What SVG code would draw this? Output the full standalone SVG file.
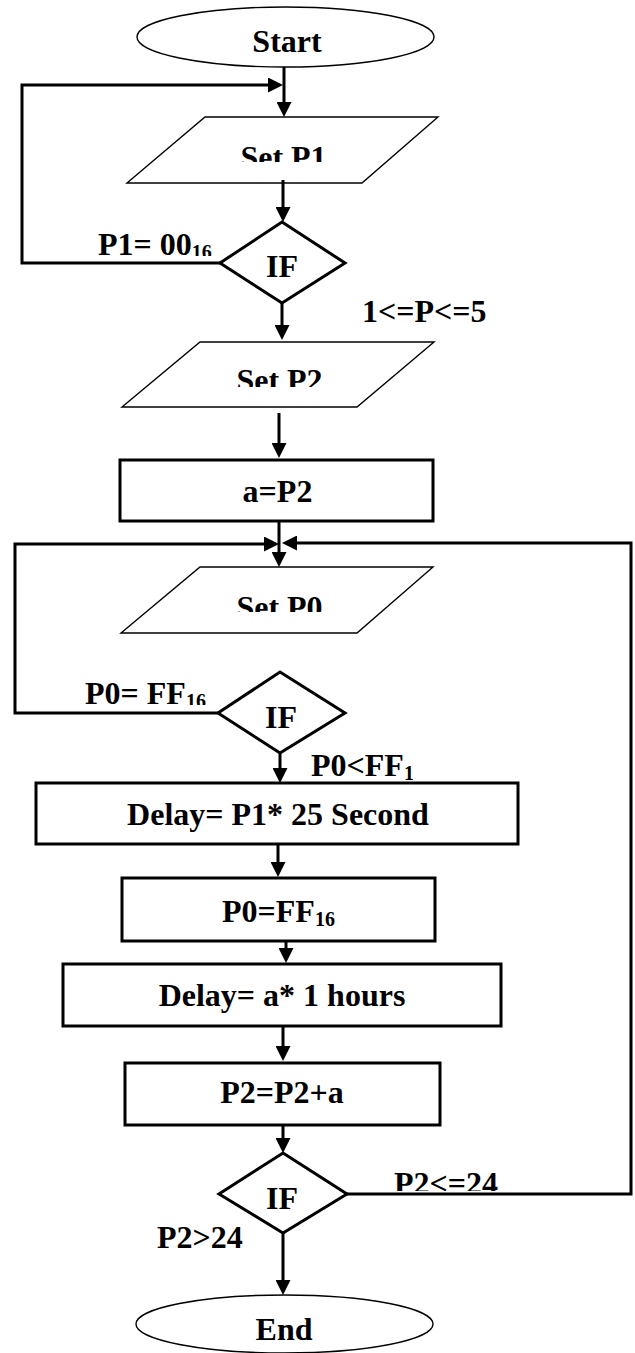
<svg xmlns="http://www.w3.org/2000/svg" width="635" height="1353" viewBox="0 0 635 1353">
<style>
.t{font-family:"Liberation Serif","Times New Roman",serif;font-weight:bold;font-size:32px;fill:#000}
.c{text-anchor:middle}
.sub{font-size:20px}
.thin{fill:#fff;stroke:#000;stroke-width:1.4}
.thick{fill:#fff;stroke:#000;stroke-width:3}
.conn{fill:none;stroke:#000;stroke-width:3}
</style>
<defs>
<marker id="ah" markerUnits="userSpaceOnUse" markerWidth="15" markerHeight="15" refX="3" refY="7.5" orient="auto"><path d="M0,0 L15,7.5 L0,15 z" fill="#000"/></marker>
<clipPath id="cSet1"><rect x="100" y="130" width="300" height="32"/></clipPath>
<clipPath id="cSet2"><rect x="100" y="355" width="300" height="32"/></clipPath>
<clipPath id="cSet0"><rect x="100" y="580" width="300" height="32"/></clipPath>
<clipPath id="cL1"><rect x="90" y="220" width="140" height="36"/></clipPath>
<clipPath id="cL2"><rect x="80" y="670" width="140" height="35"/></clipPath>
<clipPath id="cL3"><rect x="305" y="740" width="108" height="42"/></clipPath>
<clipPath id="cL4"><rect x="390" y="1160" width="120" height="31"/></clipPath>
</defs>

<g id="start">
<ellipse class="thin" cx="285.5" cy="37" rx="148.5" ry="30"/>
<text class="t c" x="287" y="52">Start</text>
</g>
<g id="setP1">
<polygon class="thin" points="205,117 438,117 362,183 127,183"/>
<text class="t c" x="283.5" y="168" clip-path="url(#cSet1)">Set P1</text>
</g>
<g id="if1">
<polygon class="thick" points="282,222 345,263 282,303 220,263"/>
<text class="t c" x="282" y="277">IF</text>
</g>
<g id="setP2">
<polygon class="thin" points="200,342 434,342 357,407 122,407"/>
<text class="t c" x="279.5" y="391" clip-path="url(#cSet2)">Set P2</text>
</g>
<g id="aP2">
<rect class="thick" x="120" y="460" width="313" height="61"/>
<text class="t c" x="277.5" y="502">a=P2</text>
</g>
<g id="setP0">
<polygon class="thin" points="200,567 433,567 357,633 121,633"/>
<text class="t c" x="279.5" y="618" clip-path="url(#cSet0)">Set P0</text>
</g>
<g id="if2">
<polygon class="thick" points="280,672 345,713 280,753 218,713"/>
<text class="t c" x="281" y="728">IF</text>
</g>
<g id="delay1">
<rect class="thick" x="36" y="783" width="482" height="61"/>
<text class="t c" x="278" y="825">Delay= P1* 25 Second</text>
</g>
<g id="p0ff">
<rect class="thick" x="122" y="878" width="313" height="63"/>
<text class="t" x="222" y="922">P0=FF<tspan class="sub" dy="4">16</tspan></text>
</g>
<g id="delay2">
<rect class="thick" x="63" y="964" width="438" height="62"/>
<text class="t c" x="282" y="1006">Delay= a* 1 hours</text>
</g>
<g id="p2add">
<rect class="thick" x="125" y="1063" width="315" height="62"/>
<text class="t c" x="282" y="1103">P2=P2+a</text>
</g>
<g id="if3">
<polygon class="thick" points="283,1153 347,1194 283,1233 219,1194"/>
<text class="t c" x="282" y="1209">IF</text>
</g>
<g id="end">
<ellipse class="thin" cx="284.5" cy="1324" rx="148.5" ry="29"/>
<text class="t c" x="284" y="1340">End</text>
</g>

<g id="connectors">
<path class="conn" marker-end="url(#ah)" d="M284,67 V105"/>
<path class="conn" marker-end="url(#ah)" d="M220,263 H22 V85 H271"/>
<path class="conn" marker-end="url(#ah)" d="M283,180 V210"/>
<path class="conn" marker-end="url(#ah)" d="M282,303 V328"/>
<path class="conn" marker-end="url(#ah)" d="M279,413 V446"/>
<path class="conn" marker-end="url(#ah)" d="M279,521 V555"/>
<path class="conn" marker-end="url(#ah)" d="M218,713 H15 V544 H267"/>
<path class="conn" marker-end="url(#ah)" d="M280,753 V771"/>
<path class="conn" marker-end="url(#ah)" d="M278,844 V865"/>
<path class="conn" marker-end="url(#ah)" d="M286,941 V951"/>
<path class="conn" marker-end="url(#ah)" d="M283,1026 V1049"/>
<path class="conn" marker-end="url(#ah)" d="M283,1125 V1141"/>
<path class="conn" marker-end="url(#ah)" d="M283,1233 V1283"/>
<path class="conn" marker-end="url(#ah)" d="M347,1194 H631 V543 H294"/>
<text class="t" x="98" y="255" clip-path="url(#cL1)">P1= 00<tspan class="sub" dy="4">16</tspan></text>
<text class="t" x="362" y="322">1&lt;=P&lt;=5</text>
<text class="t" x="85" y="704" clip-path="url(#cL2)">P0= FF<tspan class="sub" dy="4">16</tspan></text>
<text class="t" x="311" y="776" clip-path="url(#cL3)">P0&lt;FF<tspan class="sub" dy="4">16</tspan></text>
<text class="t" x="394" y="1194" clip-path="url(#cL4)">P2&lt;=24</text>
<text class="t" x="157" y="1248">P2&gt;24</text>
</g>
</svg>
